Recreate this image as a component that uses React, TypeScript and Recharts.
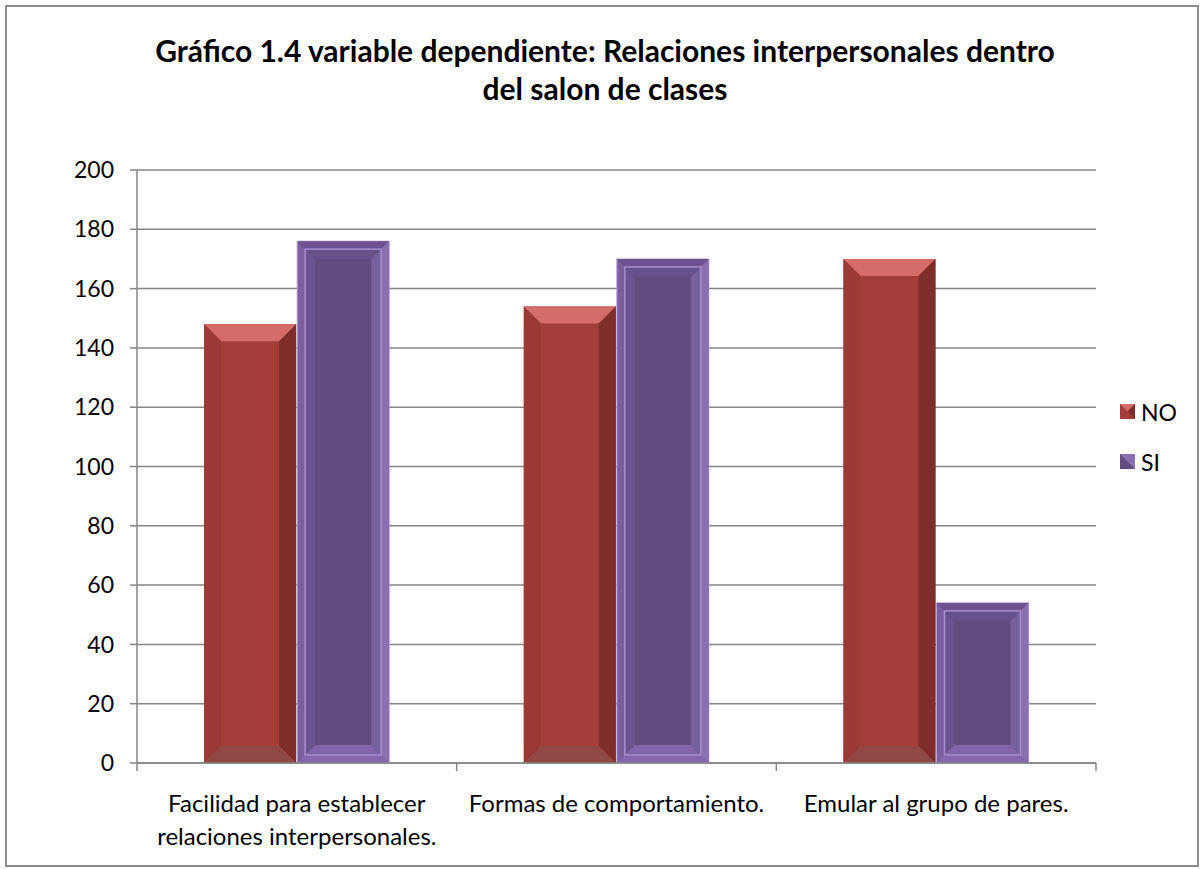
import React from "react";
import { BarChart, Bar, XAxis, YAxis, CartesianGrid } from "recharts";

const categories = [
  "Facilidad para establecer|relaciones interpersonales.",
  "Formas de comportamiento.",
  "Emular al grupo de pares.",
];
const noValues = [148, 154, 170];
const siValues = [176, 170, 54];
const yTicks = [0, 20, 40, 60, 80, 100, 120, 140, 160, 180, 200];

const data = categories.map((name, i) => ({
  name,
  NO: noValues[i],
  SI: siValues[i],
}));

const W = 1202;
const H = 869;
const M = { top: 170, right: 106, left: 77, bottom: 0 };
const Y_AXIS_W = 60;
const X_AXIS_H = 106;
const FONT = "Lato, 'Open Sans', sans-serif";

const pts = (a: number[][]) => a.map((p) => p.join(",")).join(" ");

function NoBar(props: any) {
  const { x, y, width: w, height: h } = props;
  if (!h || h <= 0) return null;
  const b = 17;
  return (
    <g>
      <rect x={x} y={y} width={w} height={h} fill="#a43e3b" />
      <polygon points={pts([[x, y], [x + w, y], [x + w - b, y + b], [x + b, y + b]])} fill="#d46d69" />
      <polygon points={pts([[x, y], [x + b, y + b], [x + b, y + h - b], [x, y + h]])} fill="#9b3936" />
      <polygon points={pts([[x + w, y], [x + w, y + h], [x + w - b, y + h - b], [x + w - b, y + b]])} fill="#7e2d2b" />
      <polygon points={pts([[x, y + h], [x + b, y + h - b], [x + w - b, y + h - b], [x + w, y + h]])} fill="#914845" />
    </g>
  );
}

function SiBar(props: any) {
  const { x, y, width: w, height: h } = props;
  if (!h || h <= 0) return null;
  const o = 8;
  const b = 10;
  const ix = x + o;
  const iy = y + o;
  const iw = w - 2 * o;
  const ih = h - 2 * o;
  return (
    <g>
      <rect x={x} y={y} width={w} height={h} fill="#7a5f9f" stroke="#b9a2dc" strokeWidth={1} />
      <polygon points={pts([[x, y], [x + w, y], [ix + iw, iy], [ix, iy]])} fill="#6c5390" />
      <polygon points={pts([[x + w, y], [x + w, y + h], [ix + iw, iy + ih], [ix + iw, iy]])} fill="#8a6fb1" />
      <polygon points={pts([[x, y + h], [ix, iy + ih], [ix + iw, iy + ih], [x + w, y + h]])} fill="#8467ad" />
      <rect x={ix} y={iy} width={iw} height={ih} fill="#604c7e" />
      <polygon points={pts([[ix, iy], [ix + iw, iy], [ix + iw - b, iy + b], [ix + b, iy + b]])} fill="#67518a" />
      <polygon points={pts([[ix, iy], [ix + b, iy + b], [ix + b, iy + ih - b], [ix, iy + ih]])} fill="#6a5490" />
      <polygon points={pts([[ix + iw, iy], [ix + iw, iy + ih], [ix + iw - b, iy + ih - b], [ix + iw - b, iy + b]])} fill="#7760a0" />
      <polygon points={pts([[ix, iy + ih], [ix + b, iy + ih - b], [ix + iw - b, iy + ih - b], [ix + iw, iy + ih]])} fill="#8065aa" />
      <rect x={ix} y={iy} width={iw} height={ih} fill="none" stroke="#a78ecf" strokeWidth={1.5} />
    </g>
  );
}

function XTick(props: any) {
  const { x, y, payload, index } = props;
  const plotW = W - M.left - Y_AXIS_W - M.right;
  const band = plotW / categories.length;
  const lines = String(payload.value).split("|");
  const left = x - band / 2;
  return (
    <g>
      <line x1={left} y1={y - 8} x2={left} y2={y} stroke="#868686" strokeWidth={1.5} />
      {index === categories.length - 1 && (
        <line x1={left + band} y1={y - 8} x2={left + band} y2={y} stroke="#868686" strokeWidth={1.5} />
      )}
      {lines.map((l, i) => (
        <text
          key={i}
          x={x}
          y={y + 41 + i * 33}
          textAnchor="middle"
          fontSize={24}
          fontFamily={FONT}
          fill="#000"
        >
          {l}
        </text>
      ))}
    </g>
  );
}

function LegendBox() {
  const items = [
    { label: "NO", color: "#a43e3b", top: "#d46d69", side: "#7e2d2b" },
    { label: "SI", color: "#604c7e", top: "#8a6fb1", side: "#8a6fb1" },
  ];
  return (
    <div
      style={{
        position: "absolute",
        left: 1120,
        top: 387,
        fontFamily: FONT,
        fontSize: 23,
      }}
    >
      {items.map((it) => (
        <div
          key={it.label}
          style={{ display: "flex", alignItems: "center", height: 50 }}
        >
          <svg width={17} height={16} style={{ marginRight: 4 }}>
            <rect x={0} y={0} width={15} height={15} fill={it.color} />
            <polygon points="0,0 15,0 7.5,7.5" fill={it.top} />
            <polygon points="15,0 15,15 7.5,7.5" fill={it.side} />
          </svg>
          <span>{it.label}</span>
        </div>
      ))}
    </div>
  );
}

export default function App() {
  return (
    <div style={{ position: "absolute", left: 0, top: 0, width: W, height: H, background: "#fff" }}>
      <div
        style={{
          position: "absolute",
          left: 5,
          top: 5,
          width: 1190,
          height: 858,
          border: "2px solid #8c8c8c",
        }}
      />
      <div
        style={{
          position: "absolute",
          left: 0,
          top: 31,
          width: 1210,
          textAlign: "center",
          fontFamily: FONT,
          fontWeight: 700,
          fontSize: 30,
          lineHeight: "38px",
          color: "#000",
        }}
      >
        Gráfico 1.4 variable dependiente: Relaciones interpersonales dentro
        <br />
        del salon de clases
      </div>
      <div style={{ position: "absolute", left: 0, top: 0 }}>
        <BarChart
          width={W}
          height={H}
          data={data}
          margin={M}
          barCategoryGap="21%"
          barGap={1}
        >
          <CartesianGrid vertical={false} stroke="#868686" strokeWidth={1.5} />
          <XAxis
            dataKey="name"
            height={X_AXIS_H}
            tickLine={false}
            axisLine={{ stroke: "#868686", strokeWidth: 1.5 }}
            tick={<XTick />}
            interval={0}
          />
          <YAxis
            width={Y_AXIS_W}
            domain={[0, 200]}
            ticks={yTicks}
            tickSize={7}
            tickLine={{ stroke: "#868686", strokeWidth: 1.5 }}
            axisLine={{ stroke: "#868686", strokeWidth: 1.5 }}
            tick={{ fontSize: 23, fontFamily: FONT, fill: "#000" }}
            tickMargin={16}
          />
          <Bar dataKey="NO" shape={<NoBar />} isAnimationActive={false} />
          <Bar dataKey="SI" shape={<SiBar />} isAnimationActive={false} />
        </BarChart>
      </div>
      <LegendBox />
    </div>
  );
}
